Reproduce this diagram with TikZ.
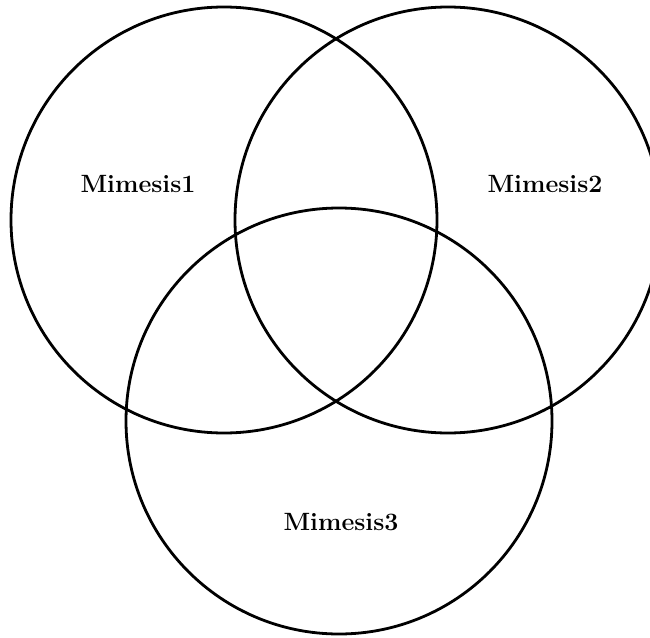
\documentclass[tikz,border=0pt]{standalone}
\begin{document}
\begin{tikzpicture}[x=1pt,y=-1pt,
  ring/.style={circle,draw=black,line width=2.8pt,minimum size=426pt,inner sep=0pt},
  lab/.style={font=\fontsize{25}{29}\selectfont\bfseries,inner sep=0pt}]
\useasboundingbox (0,0) rectangle (650,637);
\clip (0,0) rectangle (650,637);
\node[ring] (c1) at (224,220) {};
\node[ring] (c2) at (448,220) {};
\node[ring] (c3) at (339,421) {};
\node[lab] (m1) at (138,184) {Mimesis1};
\node[lab] (m2) at (545,184) {Mimesis2};
\node[lab] (m3) at (341,522) {Mimesis3};
\end{tikzpicture}
\end{document}
